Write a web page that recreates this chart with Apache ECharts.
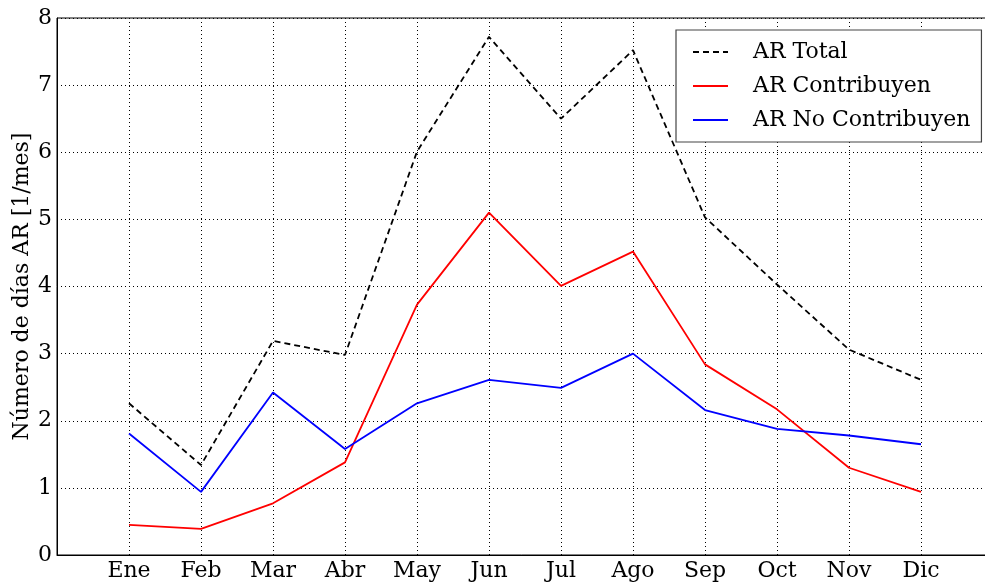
<!DOCTYPE html>
<html>
<head>
<meta charset="utf-8">
<script src="https://cdn.jsdelivr.net/npm/echarts@6/dist/echarts.min.js"></script>
<style>
  html, body { margin: 0; padding: 0; background: #fff; }
  #chart { width: 985px; height: 584px; }
</style>
</head>
<body>
<div id="chart"></div>
<script>
// Monthly counts of AR days
const months = ['Ene', 'Feb', 'Mar', 'Abr', 'May', 'Jun', 'Jul', 'Ago', 'Sep', 'Oct', 'Nov', 'Dic'];
const arTotal = [2.26, 1.34, 3.19, 2.98, 6.01, 7.72, 6.50, 7.52, 5.03, 4.03, 3.06, 2.61];
const arContribuyen = [0.45, 0.39, 0.77, 1.38, 3.73, 5.10, 4.01, 4.52, 2.84, 2.17, 1.30, 0.94];
const arNoContribuyen = [1.81, 0.94, 2.42, 1.58, 2.26, 2.61, 2.49, 3.00, 2.16, 1.88, 1.78, 1.65];
const yTicks = [0, 1, 2, 3, 4, 5, 6, 7, 8];

const FONT = 'DejaVu Serif';
const toPairs = arr => arr.map((v, i) => [i + 1, v]);

const chart = echarts.init(document.getElementById('chart'), null, { renderer: 'canvas' });

const dotted = { color: '#000', width: 1, type: [1, 3] };

chart.setOption({
  animation: false,
  backgroundColor: '#fff',
  textStyle: { fontFamily: FONT },
  grid: {
    left: 57, top: 18, right: -8, bottom: 29,
    outerBoundsMode: 'none', containLabel: false,
    show: true, borderColor: '#000', borderWidth: 1, backgroundColor: 'transparent'
  },
  legend: {
    orient: 'vertical',
    left: 676, top: 30,
    padding: [11, 11, 11, 16],
    itemWidth: 35, itemHeight: 14, itemGap: 12,
    backgroundColor: '#fff',
    borderColor: '#444', borderWidth: 1.2, borderRadius: 0,
    itemStyle: { opacity: 0 },
    textStyle: { fontFamily: FONT, fontSize: 22, color: '#000', padding: [0, 0, 0, 20] },
    data: ['AR Total', 'AR Contribuyen', 'AR No Contribuyen']
  },
  xAxis: {
    type: 'value', min: 0, max: 13, interval: 1,
    axisLine: { show: true, lineStyle: { color: '#000', width: 1 } },
    axisTick: { show: false },
    splitLine: { show: true, lineStyle: dotted },
    axisLabel: {
      fontFamily: FONT, fontSize: 22, color: '#000', margin: 5,
      showMinLabel: false, showMaxLabel: false,
      formatter: v => (v >= 1 && v <= 12 ? months[v - 1] : '')
    }
  },
  yAxis: {
    type: 'value', min: yTicks[0], max: yTicks[yTicks.length - 1], interval: 1,
    name: 'Número de días AR [1/mes]',
    nameLocation: 'middle', nameGap: 24, nameMoveOverlap: false,
    nameTextStyle: { fontFamily: FONT, fontSize: 22, color: '#000' },
    axisLine: { show: true, lineStyle: { color: '#000', width: 1 } },
    axisTick: { show: false },
    splitLine: { show: true, lineStyle: dotted },
    axisLabel: { fontFamily: FONT, fontSize: 22, color: '#000', margin: 5 }
  },
  series: [
    {
      name: 'AR Total', type: 'line', data: toPairs(arTotal),
      symbol: 'none', itemStyle: { color: '#000' },
      lineStyle: { color: '#000', width: 1.8, type: [6, 4] }
    },
    {
      name: 'AR Contribuyen', type: 'line', data: toPairs(arContribuyen),
      symbol: 'none', itemStyle: { color: '#ff0000' },
      lineStyle: { color: '#ff0000', width: 1.8 }
    },
    {
      name: 'AR No Contribuyen', type: 'line', data: toPairs(arNoContribuyen),
      symbol: 'none', itemStyle: { color: '#0000ff' },
      lineStyle: { color: '#0000ff', width: 1.8 }
    }
  ]
});
</script>
</body>
</html>
